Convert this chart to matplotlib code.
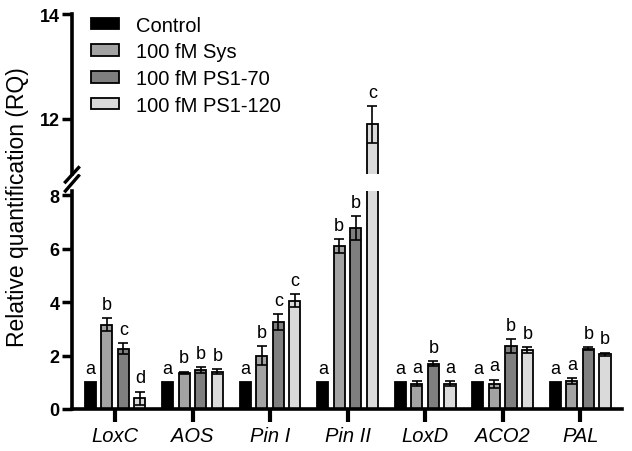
import matplotlib.pyplot as plt
import numpy as np

plt.rcParams['font.family'] = ['Liberation Sans', 'DejaVu Sans']

genes = ['LoxC', 'AOS', 'Pin I', 'Pin II', 'LoxD', 'ACO2', 'PAL']
series = ['Control', '100 fM Sys', '100 fM PS1-70', '100 fM PS1-120']
colors = ['#000000', '#a3a3a3', '#7f7f7f', '#dadada']

control = [1.0, 1.0, 1.0, 1.0, 1.0, 1.0, 1.0]
sys_ = [3.15, 1.35, 2.0, 6.1, 0.95, 0.95, 1.05]
ps70 = [2.25, 1.45, 3.25, 6.75, 1.7, 2.35, 2.25]
ps120 = [0.4, 1.4, 4.05, 11.9, 0.95, 2.2, 2.05]

control_err = [0, 0, 0, 0, 0, 0, 0]
sys_err = [0.25, 0.05, 0.35, 0.25, 0.1, 0.15, 0.1]
ps70_err = [0.2, 0.12, 0.3, 0.45, 0.1, 0.25, 0.05]
ps120_err = [0.25, 0.08, 0.25, 0.35, 0.1, 0.1, 0.05]

control_let = ['a', 'a', 'a', 'a', 'a', 'a', 'a']
sys_let = ['b', 'b', 'b', 'b', 'a', 'a', 'a']
ps70_let = ['c', 'b', 'c', 'b', 'b', 'b', 'b']
ps120_let = ['d', 'b', 'c', 'c', 'a', 'b', 'b']

vals = [control, sys_, ps70, ps120]
errs = [control_err, sys_err, ps70_err, ps120_err]
lets = [control_let, sys_let, ps70_let, ps120_let]

W, H = 632, 452
fig = plt.figure(figsize=(W / 100, H / 100), dpi=100)
left, right = 72 / W, 622 / W
ax_lo = fig.add_axes([left, 1 - 410 / H, right - left, 218 / H])
ax_hi = fig.add_axes([left, 1 - 175 / H, right - left, 160 / H])

x = np.arange(len(genes))
offsets = [-0.32, -0.107, 0.107, 0.32]
bw = 0.145

for ax in (ax_lo, ax_hi):
    for k in range(4):
        ax.bar(x + offsets[k], vals[k], bw, color=colors[k], edgecolor='black',
               linewidth=1.3, label=series[k], zorder=2)
        e = np.array(errs[k])
        ax.errorbar(x + offsets[k], vals[k], yerr=np.where(e > 0, e, np.nan),
                    fmt='none', ecolor='black', elinewidth=1.2, capsize=3.5,
                    capthick=1.2, zorder=3)
    ax.set_xlim(-0.555, 6.54)
    for s in ('top', 'right'):
        ax.spines[s].set_visible(False)
    ax.spines['left'].set_linewidth(2.6)
    ax.tick_params(axis='y', width=2.5, length=7, labelsize=13, pad=2)

ax_lo.set_ylim(0, 8.15)
ax_lo.set_yticks([0, 2, 4, 6, 8])
ax_lo.spines['bottom'].set_linewidth(2.6)
ax_lo.set_xticks(x)
ax_lo.set_xticklabels(genes, style='italic', fontsize=14.5)
ax_lo.tick_params(axis='x', width=3, length=9, pad=3)
for lab in ax_lo.get_yticklabels():
    lab.set_fontweight('bold')

ax_hi.set_ylim(10.95, 14)
ax_hi.set_yticks([12, 14])
ax_hi.spines['bottom'].set_visible(False)
ax_hi.set_xticks([])
for lab in ax_hi.get_yticklabels():
    lab.set_fontweight('bold')

# significance letters
for k in range(4):
    for i in range(len(genes)):
        top = vals[k][i] + errs[k][i]
        ax = ax_hi if top > 8 else ax_lo
        pad = 0.2 if ax is ax_lo else 0.1
        ax.text(x[i] + offsets[k], top + pad, lets[k][i], ha='center',
                va='bottom', fontsize=13)

# break marks
ax_lo.plot([-0.012, 0.012], [1.0, 1.07], transform=ax_lo.transAxes,
           color='black', lw=2.4, clip_on=False)
ax_hi.plot([-0.012, 0.012], [-0.05, 0.04], transform=ax_hi.transAxes,
           color='black', lw=2.4, clip_on=False)

ax_hi.legend(loc='upper left', bbox_to_anchor=(0.02, 1.04), frameon=False,
             fontsize=14.5, handlelength=1.4, handleheight=0.5,
             labelspacing=0.38, handletextpad=0.85, borderaxespad=0)

fig.text(0.028, 0.542, 'Relative quantification (RQ)', rotation=90,
         ha='center', va='center', fontsize=16.5)

fig.savefig('out.png', dpi=100)
